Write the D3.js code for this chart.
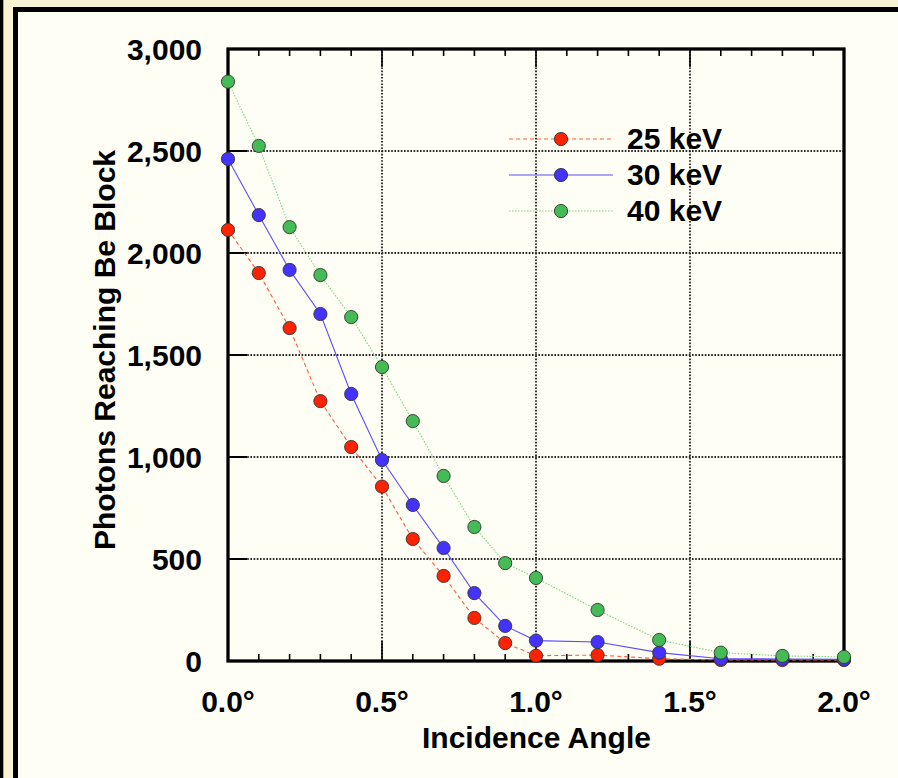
<!DOCTYPE html>
<html>
<head>
<meta charset="utf-8">
<script src="https://cdn.jsdelivr.net/npm/d3@7"></script>
<style>
  body { margin: 0; background: #f8f3d2; }
  svg { display: block; }
  text { font-family: "Liberation Sans", Arial, sans-serif; font-weight: bold; fill: #000; }
</style>
</head>
<body>
<div id="content"></div>
<script>
// datos
var angles = [0, 0.1, 0.2, 0.3, 0.4, 0.5, 0.6, 0.7, 0.8, 0.9, 1.0, 1.2, 1.4, 1.6, 1.8, 2.0];
var kev25 = [2113, 1902, 1632, 1274, 1049, 855, 598, 417, 211, 88, 26, 29, 11, 5, 5, 5];
var kev30 = [2461, 2186, 1917, 1701, 1309, 985, 765, 554, 333, 172, 100, 93, 41, 11, 10, 8];
var kev40 = [2840, 2525, 2127, 1892, 1686, 1441, 1176, 907, 657, 480, 407, 250, 103, 41, 25, 20];
var seriesNames = ["25 keV", "30 keV", "40 keV"];
var xTicks = [0, 0.5, 1.0, 1.5, 2.0];
var yTicks = [0, 500, 1000, 1500, 2000, 2500, 3000];

var width = 898;
var height = 778;
var fontSize = "30px";

var svg = d3.select("#content")
  .append("svg")
  .attr("width", width)
  .attr("height", height);

// fondo y marco
svg.append("rect").attr("x", 0).attr("y", 0).attr("width", width).attr("height", height).attr("fill", "#f8f3d2");
svg.append("rect").attr("x", 0).attr("y", 0).attr("width", 3.3).attr("height", height).attr("fill", "#000");
svg.append("rect")
  .attr("x", 15.5).attr("y", 9.5)
  .attr("width", 1000).attr("height", 1000)
  .attr("fill", "#fefef5")
  .attr("stroke", "#000")
  .attr("stroke-width", 5);

var x = d3.scaleLinear().domain([0, 2]).range([228, 844]);
var y = d3.scaleLinear().domain([0, 3000]).range([661, 49]);

var g = svg.append("g");

// rejilla
g.selectAll(".vgrid")
  .data(xTicks.slice(1, -1))
  .enter().append("line")
  .attr("x1", function(d) { return x(d); })
  .attr("x2", function(d) { return x(d); })
  .attr("y1", y(0)).attr("y2", y(3000))
  .attr("stroke", "#222").attr("stroke-width", 1.8)
  .attr("stroke-dasharray", "1.6,1.6");

g.selectAll(".hgrid")
  .data(yTicks.slice(1, -1))
  .enter().append("line")
  .attr("x1", x(0)).attr("x2", x(2))
  .attr("y1", function(d) { return y(d); })
  .attr("y2", function(d) { return y(d); })
  .attr("stroke", "#222").attr("stroke-width", 1.8)
  .attr("stroke-dasharray", "1.6,1.6");

// ticks menores y mayores
var minor = d3.range(1, 20).map(function(i) { return i / 10; });
g.selectAll(".minorB")
  .data(minor)
  .enter().append("line")
  .attr("x1", function(d) { return x(d); })
  .attr("x2", function(d) { return x(d); })
  .attr("y1", function(d) { return y(0); })
  .attr("y2", function(d) { return y(0) - (Math.round(d * 10) % 5 === 0 ? 20 : 7); })
  .attr("stroke", "#000").attr("stroke-width", 1.6);
g.selectAll(".minorT")
  .data(minor)
  .enter().append("line")
  .attr("x1", function(d) { return x(d); })
  .attr("x2", function(d) { return x(d); })
  .attr("y1", function(d) { return y(3000); })
  .attr("y2", function(d) { return y(3000) + (Math.round(d * 10) % 5 === 0 ? 18 : 7); })
  .attr("stroke", "#000").attr("stroke-width", 1.6);
g.selectAll(".ytickL")
  .data(yTicks.slice(1, -1))
  .enter().append("line")
  .attr("x1", x(0)).attr("x2", x(0) + 19)
  .attr("y1", function(d) { return y(d); })
  .attr("y2", function(d) { return y(d); })
  .attr("stroke", "#000").attr("stroke-width", 2);

// caja del grafico
g.append("rect")
  .attr("x", x(0)).attr("y", y(3000))
  .attr("width", x(2) - x(0)).attr("height", y(0) - y(3000))
  .attr("fill", "none").attr("stroke", "#000").attr("stroke-width", 3.3);

// etiquetas de ejes
var fmtY = d3.format(",");
g.selectAll(".ylab")
  .data(yTicks)
  .enter().append("text")
  .attr("x", 202)
  .attr("y", function(d) { return y(d); })
  .attr("dy", "0.35em")
  .attr("text-anchor", "end")
  .style("font-size", fontSize)
  .text(function(d) { return fmtY(d); });

g.selectAll(".xlab")
  .data(xTicks)
  .enter().append("text")
  .attr("x", function(d) { return x(d); })
  .attr("y", 712)
  .attr("text-anchor", "middle")
  .style("font-size", fontSize)
  .text(function(d) { return d.toFixed(1) + "°"; });

svg.append("text")
  .attr("x", 536.5).attr("y", 748)
  .attr("text-anchor", "middle")
  .style("font-size", fontSize)
  .text("Incidence Angle");

svg.append("text")
  .attr("transform", "translate(115,350) rotate(-90)")
  .attr("text-anchor", "middle")
  .style("font-size", fontSize)
  .text("Photons Reaching Be Block");

// series
var series = [
  { name: seriesNames[0], values: kev25, line: "#ff5a3c", fill: "#ff2200", dash: "4,3", w: 1.1 },
  { name: seriesNames[1], values: kev30, line: "#5a4cff", fill: "#4433ff", dash: null, w: 1.1 },
  { name: seriesNames[2], values: kev40, line: "#7fd67f", fill: "#44bb55", dash: "1.5,1.5", w: 1.1 }
];

var line = d3.line()
  .x(function(d, i) { return x(angles[i]); })
  .y(function(d) { return y(d); });

series.forEach(function(s) {
  g.append("path")
    .attr("d", line(s.values))
    .attr("fill", "none")
    .attr("stroke", s.line)
    .attr("stroke-width", s.w)
    .attr("stroke-dasharray", s.dash);
});

series.forEach(function(s) {
  g.selectAll(null)
    .data(s.values)
    .enter().append("circle")
    .attr("cx", function(d, i) { return x(angles[i]); })
    .attr("cy", function(d) { return y(d); })
    .attr("r", 6.6)
    .attr("fill", s.fill)
    .attr("stroke", "#333")
    .attr("stroke-width", 0.9);
});

// leyenda
var legend = svg.append("g");
series.forEach(function(s, i) {
  var ly = 139 + i * 36;
  legend.append("line")
    .attr("x1", 509).attr("x2", 613)
    .attr("y1", ly).attr("y2", ly)
    .attr("stroke", s.line)
    .attr("stroke-width", s.w)
    .attr("stroke-dasharray", s.dash);
  legend.append("circle")
    .attr("cx", 561).attr("cy", ly)
    .attr("r", 6.6)
    .attr("fill", s.fill)
    .attr("stroke", "#333")
    .attr("stroke-width", 0.9);
  legend.append("text")
    .attr("x", 627).attr("y", ly + 10)
    .style("font-size", fontSize)
    .text(s.name);
});
</script>
</body>
</html>
